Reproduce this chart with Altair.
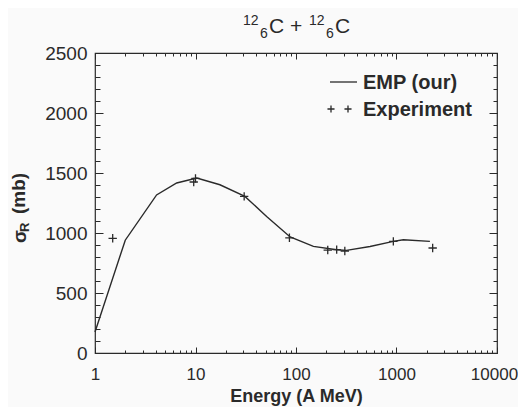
import altair as alt
import pandas as pd

# ---- data ----
curve_energy = [1.0, 2.0, 4.1, 6.5, 10.3, 17.5, 31.0, 51.0, 87.5, 149.0, 254.0, 318.0, 545.0, 930.0, 1170.0, 2150.0]
curve_sigma = [175, 940, 1317, 1417, 1458, 1402, 1305, 1138, 967, 888, 861, 855, 888, 930, 944, 930]

exp_energy = [1.5, 9.6, 10.0, 30.5, 86.0, 207.0, 254.0, 306.0, 930.0, 2290.0]
exp_sigma = [956, 1425, 1455, 1305, 960, 858, 862, 850, 930, 875]

x_major = [1, 10, 100, 1000, 10000]
x_labels_main = [1, 10, 100, 1000]
x_labels_last = [10000]
x_minor = [m * d for d in [1, 10, 100, 1000] for m in range(2, 10)]
y_major = [0, 500, 1000, 1500, 2000, 2500]
y_minor = list(range(0, 2501, 100))

FONT = "Liberation Sans"
INK = "#2a2a2a"

curve = pd.DataFrame({"E": curve_energy, "S": curve_sigma})
exp = pd.DataFrame({"E": exp_energy, "S": exp_sigma})

xscale = alt.Scale(type="log", domain=[1, 10000], nice=False)
yscale = alt.Scale(domain=[0, 2500], nice=False, zero=False)

W, H = 402, 300


def tick_axis(orient, values, size):
    return alt.Axis(orient=orient, values=values, offset=-size, tickSize=size,
                    labels=False, domain=False, grid=False, title=None,
                    tickColor=INK, tickWidth=1)


line = alt.Chart(curve).mark_line(color=INK, strokeWidth=1.4).encode(
    x=alt.X("E:Q", scale=xscale,
            axis=alt.Axis(orient="bottom", values=x_labels_main, format="d", ticks=False,
                          domain=False, grid=False, labelFontSize=17, labelFont=FONT,
                          labelColor=INK, labelPadding=13, labelFlush=False,
                          labelOverlap=False, title="Energy (A MeV)", titleFont=FONT,
                          titleFontSize=18, titleFontWeight="bold", titleColor=INK,
                          titlePadding=5)),
    y=alt.Y("S:Q", scale=yscale,
            axis=alt.Axis(orient="left", values=y_major, format="d", ticks=False,
                          domain=False, grid=False, labelFontSize=19, labelFont=FONT,
                          labelColor=INK, labelPadding=8, labelFlush=False,
                          labelOverlap=False, title=None)),
)

points = alt.Chart(exp).mark_point(shape="M-1,0L1,0M0,-1L0,1", size=70, filled=False,
                                   color=INK, strokeWidth=1.3, opacity=1).encode(
    x=alt.X("E:Q", scale=xscale,
            axis=alt.Axis(orient="bottom", values=x_labels_last, format="d", ticks=False,
                          domain=False, grid=False, labelFontSize=17, labelFont=FONT,
                          labelColor=INK, labelPadding=13, labelFlush=False,
                          labelOverlap=False, labelOffset=-3, title=None)),
    y=alt.Y("S:Q", scale=yscale, axis=None),
)


def tick_layer(xo, xv, xs, yo, yv, ys):
    return alt.Chart(curve).mark_point(opacity=0).encode(
        x=alt.X("E:Q", scale=xscale, axis=tick_axis(xo, xv, xs)),
        y=alt.Y("S:Q", scale=yscale, axis=tick_axis(yo, yv, ys)),
    )


t1 = tick_layer("bottom", x_major, 6, "left", y_major, 8)
t2 = tick_layer("bottom", x_minor, 3, "left", y_minor, 5)
t3 = tick_layer("top", x_major, 6, "right", y_major, 8)
t4 = tick_layer("top", x_minor, 3, "right", y_minor, 4)

one = pd.DataFrame({"a": [0]})


def txt(text, x, y, size=19, weight="normal", angle=0, baseline="alphabetic"):
    return alt.Chart(one).mark_text(text=text, font=FONT, fontSize=size, fontWeight=weight,
                                    color=INK, align="left", baseline=baseline,
                                    angle=angle).encode(x=alt.value(x), y=alt.value(y))


# title  12/6 C + 12/6 C
title_parts = [
    txt("12", 148, -28, size=14),
    txt("6", 165, -15, size=14),
    txt("C + ", 174, -20, size=21),
    txt("12", 214, -28, size=14),
    txt("6", 231, -15, size=14),
    txt("C", 240, -20, size=21),
]

# y title  sigma_R (mb)
ytitle = [
    txt("σ", -69, 190, size=19, weight="bold", angle=270),
    txt("R", -66, 179, size=13, weight="bold", angle=270),
    txt("(mb)", -70, 161, size=19, weight="bold", angle=270),
]

# legend
leg_line = alt.Chart(one).mark_rule(color=INK, strokeWidth=1.3).encode(
    x=alt.value(235), x2=alt.value(262), y=alt.value(29))
leg_pts = [
    alt.Chart(one).mark_point(shape="M-1,0L1,0M0,-1L0,1", size=50, filled=False, color=INK,
                              strokeWidth=1.3, opacity=1).encode(x=alt.value(xv), y=alt.value(56))
    for xv in (236, 253)
]
leg_text = [
    txt("EMP (our)", 268, 36, size=20, weight="bold"),
    txt("Experiment", 268, 63, size=20, weight="bold"),
]

chart = alt.layer(
    t1, t2, t3, t4, line, points, *title_parts, *ytitle, leg_line, *leg_pts, *leg_text
).resolve_axis(x="independent", y="independent").properties(
    width=W, height=H,
    autosize=alt.AutoSizeParams(type="none"),
    padding={"left": 87, "top": 45, "right": 21, "bottom": 54},
    background="#fafafa",
).configure_view(stroke=INK, strokeWidth=1.2)

chart.save("out.html", embed_options={"renderer": "svg", "actions": False})
